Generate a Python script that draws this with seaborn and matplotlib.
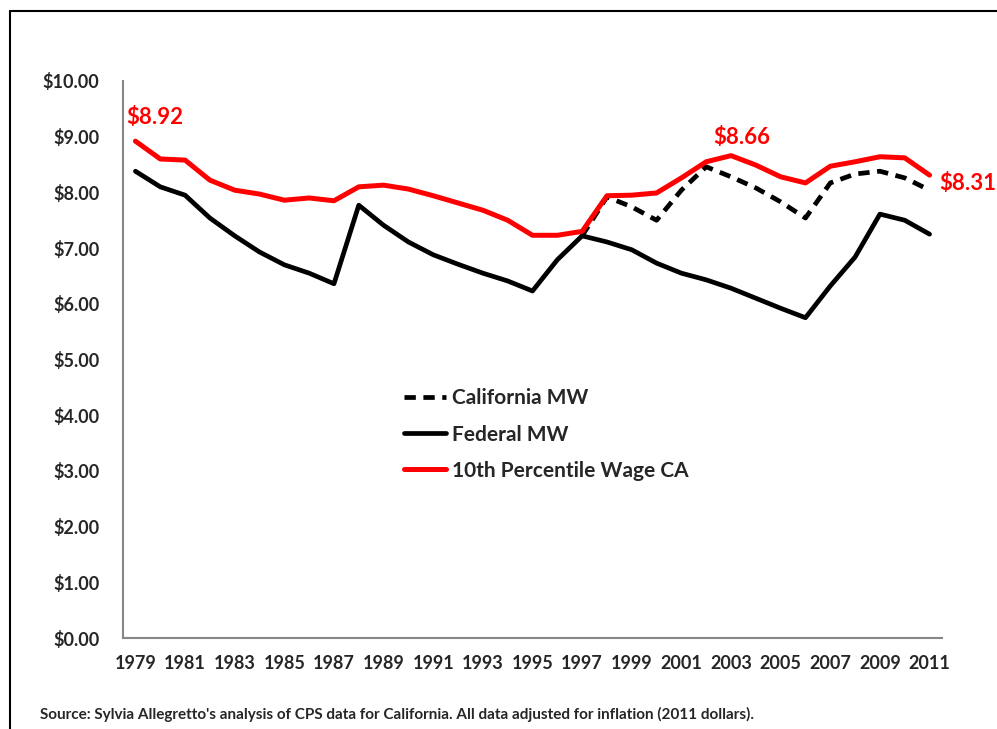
import numpy as np
import pandas as pd
import seaborn as sns
import matplotlib.pyplot as plt
from matplotlib.lines import Line2D

years = list(range(1979, 2012))

wage_10th = [8.92, 8.60, 8.58, 8.22, 8.04, 7.97, 7.86, 7.90, 7.85, 8.10,
             8.13, 8.06, 7.94, 7.81, 7.68, 7.50, 7.23, 7.23, 7.30, 7.94,
             7.95, 7.99, 8.26, 8.55, 8.66, 8.49, 8.28, 8.17, 8.47, 8.55,
             8.64, 8.62, 8.31]

federal_mw = [8.38, 8.10, 7.95, 7.54, 7.22, 6.93, 6.70, 6.55, 6.36, 7.77,
              7.41, 7.11, 6.88, 6.71, 6.55, 6.41, 6.23, 6.79, 7.22, 7.11,
              6.97, 6.73, 6.55, 6.43, 6.28, 6.10, 5.92, 5.75, 6.32, 6.84,
              7.61, 7.50, 7.25]

# California only differs from federal from 1997 on
california_mw = [np.nan] * 18 + [7.22, 7.92, 7.74, 7.50, 8.04, 8.46, 8.28,
                                 8.08, 7.83, 7.54, 8.17, 8.33, 8.38, 8.26, 8.04]

labels = {1979: "$8.92", 2003: "$8.66", 2011: "$8.31"}

df = pd.DataFrame({"year": years, "wage": wage_10th,
                   "federal": federal_mw, "california": california_mw})

sns.set_style("white")
plt.rcParams['font.family'] = ['Lato', 'DejaVu Sans']
plt.rcParams['font.weight'] = 'bold'

fig = plt.figure(figsize=(9.97, 7.29), dpi=100)
ax = fig.add_axes([0.1234, 0.1248, 0.8214, 0.7641])

sns.lineplot(data=df, x="year", y="federal", color="black", linewidth=3.4, ax=ax)
sns.lineplot(data=df, x="year", y="california", color="black", linewidth=3.4,
             linestyle=(0, (2.4, 1.6)), ax=ax)
sns.lineplot(data=df, x="year", y="wage", color="#ff0000", linewidth=3.6, ax=ax)

ax.set_xlim(1978.5, 2011.5)
ax.set_ylim(0, 10)
ax.set_xlabel("")
ax.set_ylabel("")

yt = np.arange(0, 11, 1)
ax.set_yticks(yt)
ax.set_yticklabels([f"${v:.2f}" for v in yt], fontsize=13, fontweight='bold')

# ticks between categories, labels on categories
ax.set_xticks(np.arange(1978.5, 2011, 2))
ax.set_xticklabels([])
ax.set_xticks(years[::2], minor=True)
ax.set_xticklabels([str(y) for y in years[::2]], minor=True, fontsize=13, fontweight='bold')
ax.tick_params(axis='x', which='major', length=5, width=1.2, color='#868686', direction='out')
ax.tick_params(axis='x', which='minor', length=0, pad=12)
ax.tick_params(axis='y', length=5, width=1.2, color='#868686', direction='out', pad=12)

for s in ['top', 'right']:
    ax.spines[s].set_visible(False)
for s in ['left', 'bottom']:
    ax.spines[s].set_color('#868686')
    ax.spines[s].set_linewidth(1.5)

offsets = {1979: (14, 17, 'center'), 2003: (8, 13, 'center'), 2011: (7, -6, 'left')}
for yr, txt in labels.items():
    val = wage_10th[years.index(yr)]
    dx, dy, ha = offsets[yr]
    ax.annotate(txt, (yr, val), xytext=(dx, dy), textcoords='offset points',
                ha=ha, va='center', color='#ff0000', fontsize=16, fontweight='bold')

handles = [Line2D([], [], color='black', lw=3.4, linestyle=(0, (2.4, 1.6))),
           Line2D([], [], color='black', lw=3.4),
           Line2D([], [], color='#ff0000', lw=3.6)]
ax.legend(handles, ["California MW", "Federal MW", "10th Percentile Wage CA"],
          loc='upper left', bbox_to_anchor=(0.32, 0.482), frameon=False,
          prop={'size': 15, 'weight': 'bold'}, handlelength=2.0,
          handletextpad=0.3, labelspacing=0.78)

fig.text(40 / 997, 1 - 714 / 729, "Source: Sylvia Allegretto's analysis of CPS data for California. "
         "All data adjusted for inflation (2011 dollars).",
         fontsize=11, fontweight='bold', va='center')

# frame border, only top and left visible
fig.add_artist(Line2D([10 / 997, 1], [1 - 11 / 729, 1 - 11 / 729], color='black', lw=1.5))
fig.add_artist(Line2D([10 / 997, 10 / 997], [0, 1 - 11 / 729], color='black', lw=1.5))

fig.savefig("out.png", dpi=100)
